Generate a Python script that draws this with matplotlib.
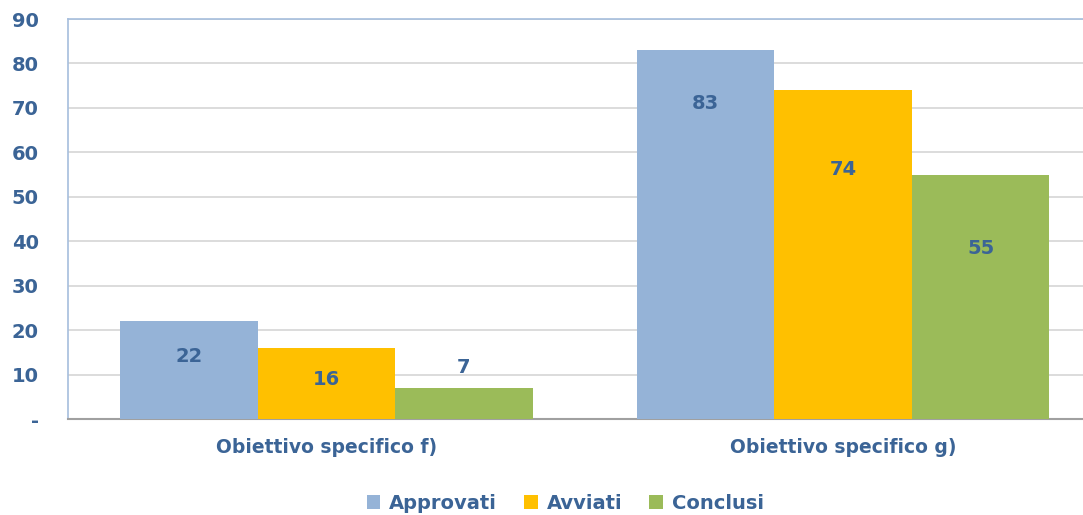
import matplotlib.pyplot as plt
import numpy as np

# dati
categorie = ['Obiettivo specifico f)', 'Obiettivo specifico g)']
serie = ['Approvati', 'Avviati', 'Conclusi']
approvati = [22, 83]
avviati = [16, 74]
conclusi = [7, 55]
valori = [approvati, avviati, conclusi]
colori = ['#95B3D7', '#FFC000', '#9BBB59']
testo = '#3B6496'

# spostamento delle etichette rispetto alla cima della barra
spost = [[-8, -12], [-7.2, -17.8], [4.5, -16.7]]

fig = plt.figure(figsize=(10.83, 5.15), dpi=100)
ax = fig.add_axes([0.0628, 0.1864, 0.94, 0.7766])

x = np.arange(len(categorie))
w = 0.266
for i, (nome, v) in enumerate(zip(serie, valori)):
    pos = x + (i - 1) * w
    ax.bar(pos, v, w, color=colori[i], label=nome, zorder=3)
    for p, val, d in zip(pos, v, spost[i]):
        ax.text(p, val + d, str(val), ha='center', va='center',
                fontsize=14, fontweight='bold', color=testo, zorder=4)

ax.set_xlim(-0.5, 1.47)
ax.set_ylim(0, 90)
ax.set_yticks(range(0, 91, 10))
ax.set_yticklabels(['-'] + [str(t) for t in range(10, 91, 10)])
ax.set_xticks(x)
ax.set_xticklabels(categorie)
ax.grid(axis='y', color='#D6D6D6', linewidth=1.2, zorder=0)
ax.tick_params(axis='both', length=0, labelsize=13.5, labelcolor=testo)
ax.tick_params(axis='x', pad=14)
ax.tick_params(axis='y', labelsize=14, pad=21)
for t in ax.get_xticklabels() + ax.get_yticklabels():
    t.set_fontweight('bold')

ax.spines['right'].set_visible(False)
ax.spines['left'].set_color('#A6BEDD')
ax.spines['top'].set_color('#A6BEDD')
ax.spines['bottom'].set_color('#A0A0A0')
ax.spines['left'].set_linewidth(1.2)
ax.spines['top'].set_linewidth(1.2)
ax.spines['bottom'].set_linewidth(1.5)

leg = fig.legend(loc='lower center', bbox_to_anchor=(0.522, -0.03), ncol=3,
                 frameon=False, handlelength=0.7, handleheight=0.7,
                 handletextpad=0.45, columnspacing=1.4,
                 prop={'size': 14, 'weight': 'bold'})
for t in leg.get_texts():
    t.set_color(testo)

fig.savefig('out.png', dpi=100)
